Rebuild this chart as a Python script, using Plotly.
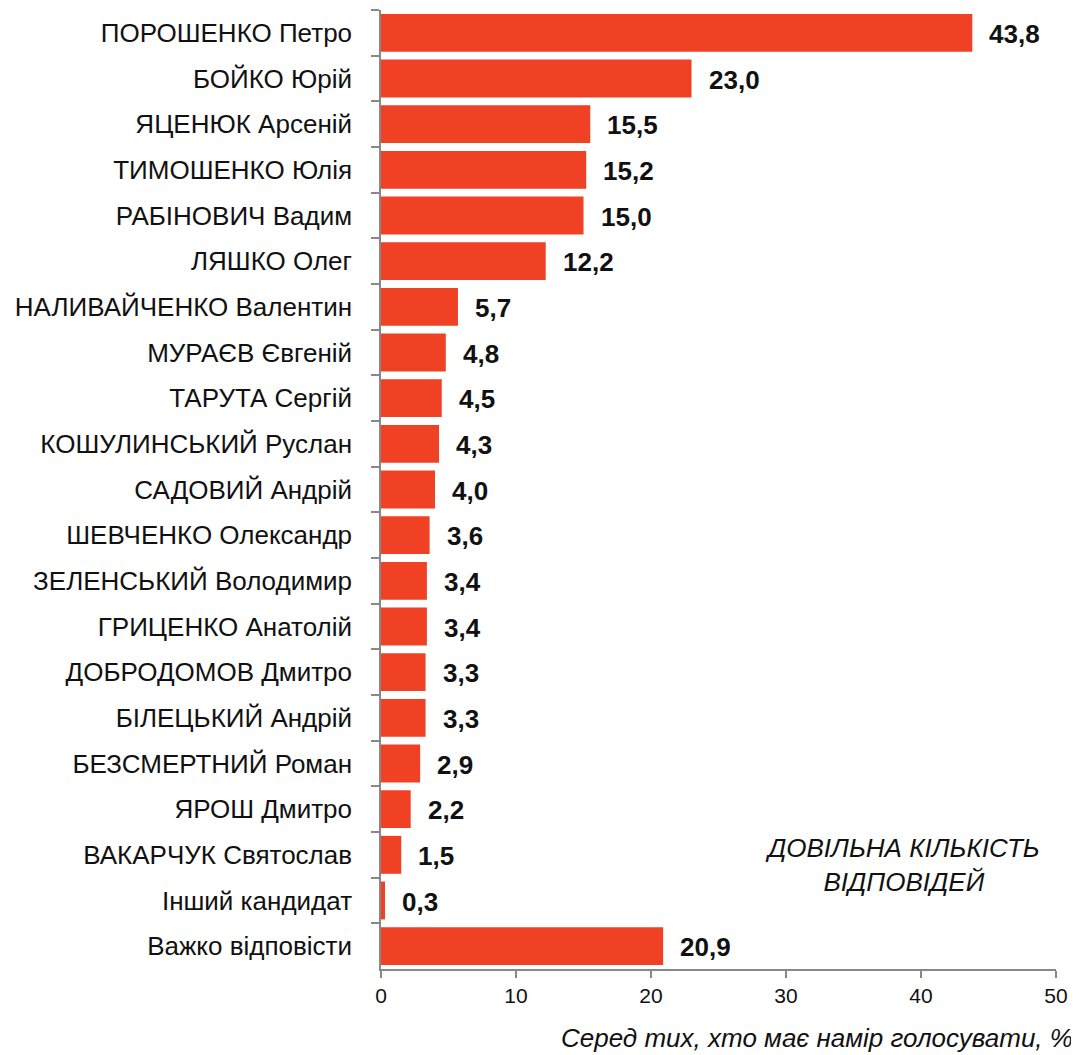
import plotly.graph_objects as go

categories = [
    "ПОРОШЕНКО Петро", "БОЙКО Юрій", "ЯЦЕНЮК Арсеній", "ТИМОШЕНКО Юлія",
    "РАБІНОВИЧ Вадим", "ЛЯШКО Олег", "НАЛИВАЙЧЕНКО Валентин", "МУРАЄВ Євгеній",
    "ТАРУТА Сергій", "КОШУЛИНСЬКИЙ Руслан", "САДОВИЙ Андрій", "ШЕВЧЕНКО Олександр",
    "ЗЕЛЕНСЬКИЙ Володимир", "ГРИЦЕНКО Анатолій", "ДОБРОДОМОВ Дмитро",
    "БІЛЕЦЬКИЙ Андрій", "БЕЗСМЕРТНИЙ Роман", "ЯРОШ Дмитро", "ВАКАРЧУК Святослав",
    "Інший кандидат", "Важко відповісти",
]
values = [43.8, 23.0, 15.5, 15.2, 15.0, 12.2, 5.7, 4.8, 4.5, 4.3, 4.0, 3.6,
          3.4, 3.4, 3.3, 3.3, 2.9, 2.2, 1.5, 0.3, 20.9]
value_labels = [f"{v:.1f}".replace(".", ",") for v in values]
x_ticks = [0, 10, 20, 30, 40, 50]

FONT = "Liberation Sans Narrow, Arial Narrow, Liberation Sans, sans-serif"
BAR = "#F04124"

fig = go.Figure()
fig.add_trace(go.Bar(
    x=values, y=categories, orientation="h",
    marker=dict(color=BAR, line=dict(width=0)),
    width=0.83,
))

for c, v, t in zip(categories, values, value_labels):
    fig.add_annotation(
        x=v, y=c, xref="x", yref="y", text=f"<b>{t}</b>", showarrow=False,
        xanchor="left", yanchor="middle", xshift=15, yshift=-1,
        font=dict(family=FONT, size=26, color="#111111"),
    )

fig.add_annotation(
    x=1.0, y=-0.072, xref="paper", yref="paper",
    text="<i>Серед тих, хто має намір голосувати, %</i>", showarrow=False,
    xanchor="right", yanchor="middle", xshift=19,
    font=dict(family=FONT, size=26, color="#111111"),
)
fig.add_annotation(
    x=0.773, y=0.108, xref="paper", yref="paper",
    text="<i>ДОВІЛЬНА КІЛЬКІСТЬ<br>ВІДПОВІДЕЙ</i>", showarrow=False,
    xanchor="center", yanchor="middle", align="center",
    font=dict(family=FONT, size=26, color="#111111"),
)

fig.update_layout(
    width=1071, height=1047,
    margin=dict(l=373, r=23, t=2, b=86),
    paper_bgcolor="white", plot_bgcolor="white",
    showlegend=False,
    xaxis=dict(
        range=[0, 50], tickvals=x_ticks, ticktext=[str(t) for t in x_ticks],
        showgrid=False, zeroline=False, showline=True, linecolor="#888888", linewidth=1.5,
        ticks="outside", ticklen=7, tickcolor="#888888", tickwidth=1.5,
        tickfont=dict(family=FONT, size=21, color="#111111"),
    ),
    yaxis=dict(
        autorange="reversed", categoryorder="array", categoryarray=categories,
        showgrid=False, zeroline=False, showline=True, linecolor="#888888", linewidth=1.5,
        ticks="outside", ticklen=8, tickcolor="#888888", tickwidth=1.5,
        tickson="boundaries", ticklabelstandoff=22,
        tickfont=dict(family=FONT, size=26, color="#111111"),
    ),
)

fig.write_html("out.html")
